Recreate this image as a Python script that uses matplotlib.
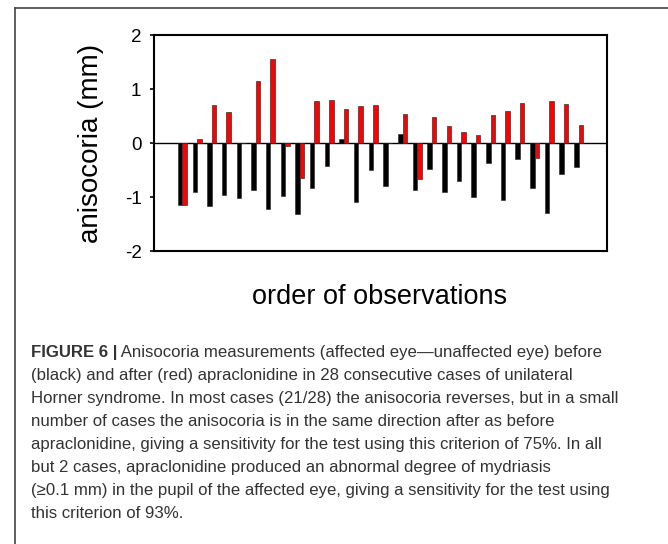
import numpy as np
import matplotlib
matplotlib.use("Agg")
import matplotlib.pyplot as plt
from matplotlib.lines import Line2D

plt.rcParams['font.family'] = ['Liberation Sans', 'DejaVu Sans']

# anisocoria (mm) per case, before (black) and after (red) apraclonidine
before = [-1.15, -0.91, -1.17, -0.97, -1.01, -0.87, -1.22, -0.98, -1.31, -0.83,
          -0.43, 0.07, -1.09, -0.50, -0.79, 0.17, -0.87, -0.48, -0.91, -0.71,
          -1.00, -0.37, -1.05, -0.29, -0.83, -1.30, -0.57, -0.44]
after = [-1.15, 0.08, 0.71, 0.57, 0.0, 1.15, 1.56, -0.06, -0.64, 0.78,
         0.80, 0.63, 0.68, 0.70, 0.0, 0.54, -0.67, 0.48, 0.31, 0.20,
         0.14, 0.51, 0.60, 0.74, -0.28, 0.78, 0.72, 0.34]
yticks = [-2, -1, 0, 1, 2]

caption_bold = "FIGURE 6 |"
caption_lines = [
    " Anisocoria measurements (affected eye\u2014unaffected eye) before",
    "(black) and after (red) apraclonidine in 28 consecutive cases of unilateral",
    "Horner syndrome. In most cases (21/28) the anisocoria reverses, but in a small",
    "number of cases the anisocoria is in the same direction after as before",
    "apraclonidine, giving a sensitivity for the test using this criterion of 75%. In all",
    "but 2 cases, apraclonidine produced an abnormal degree of mydriasis",
    "(\u22650.1 mm) in the pupil of the affected eye, giving a sensitivity for the test using",
    "this criterion of 93%.",
]

W, H = 668, 544
fig = plt.figure(figsize=(W / 100, H / 100), dpi=100)
ax = fig.add_axes([154 / W, 1 - 251 / H, (607 - 154) / W, (251 - 35) / H])

x = np.arange(len(before))
w = 0.3
ax.bar(x - w / 2, before, width=w, color='black', edgecolor='#222222', linewidth=0.4)
ax.bar(x + w / 2, after, width=w, color='#ff0000', edgecolor='#333333', linewidth=0.5)
ax.axhline(0, color='black', linewidth=1.0, zorder=0.5)

ax.set_xlim(-1.94, 28.94)
ax.set_ylim(-2, 2)
ax.set_yticks(yticks)
ax.set_yticklabels([str(t) for t in yticks], fontsize=13.5)
ax.set_xticks([])
ax.tick_params(axis='y', direction='out', length=3, width=1.2, pad=6)
for s in ax.spines.values():
    s.set_linewidth(1.5)
ax.set_ylabel("anisocoria (mm)", fontsize=20)
ax.yaxis.set_label_coords((104 - 154) / 453, 0.5)
fig.text(380 / W, 1 - 297 / H, "order of observations", fontsize=19.5,
         ha='center', va='center')

# figure frame (top and left)
fig.add_artist(Line2D([15 / W, 1], [1 - 8 / H, 1 - 8 / H], color='#444444', linewidth=1.2))
fig.add_artist(Line2D([15 / W, 15 / W], [1 - 8 / H, 0], color='#444444', linewidth=1.2))

# caption
cap_color = '#333333'
cap_size = 12.1
x0 = 31 / W
y0 = 356.5
step = 23.1
bt = fig.text(x0, 1 - y0 / H, caption_bold, fontsize=cap_size, fontweight='bold',
              color=cap_color, ha='left', va='baseline')
fig.canvas.draw()
bb = bt.get_window_extent(fig.canvas.get_renderer())
x1 = bb.x1 / fig.bbox.width
for i, line in enumerate(caption_lines):
    xs = x1 if i == 0 else x0
    fig.text(xs, 1 - (y0 + i * step) / H, line, fontsize=cap_size,
             color=cap_color, ha='left', va='baseline')

fig.savefig("out.png", dpi=100)
